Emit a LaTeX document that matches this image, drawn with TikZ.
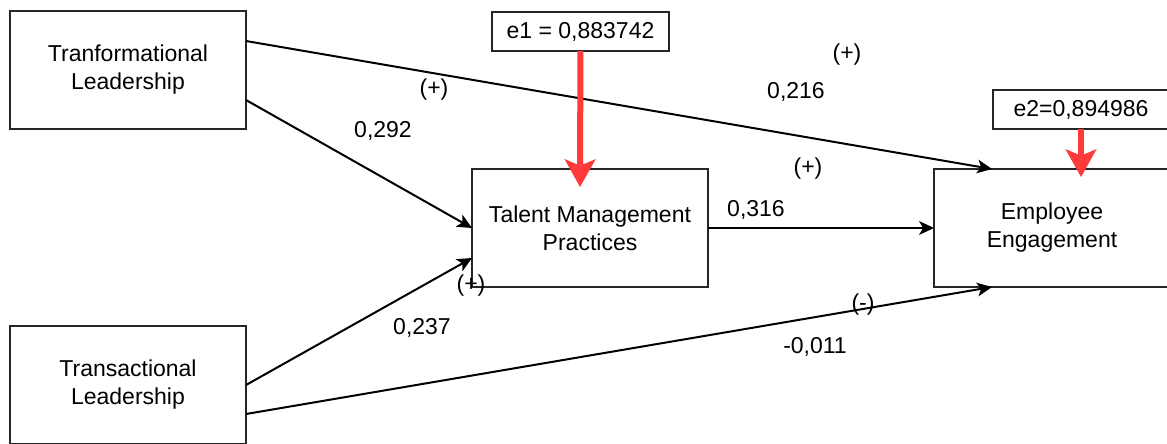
\documentclass[tikz,border=0pt]{standalone}
\usepackage{fontspec}
\setmainfont{Liberation Sans}
\usepackage{xcolor}
\usetikzlibrary{positioning,arrows.meta}

\definecolor{errred}{HTML}{FF3A3A}
\definecolor{boxline}{HTML}{262626}

\begin{document}
\begin{tikzpicture}[
        x=0.75pt, y=-0.75pt,
        node distance=30pt and 169.5pt,
        every node/.style={font=\fontsize{17.25}{21}\selectfont},
        var/.style={draw=boxline, line width=1.5pt, minimum width=177pt,
                    minimum height=88.5pt, align=center, inner sep=0pt,
                    outer sep=0pt},
        err/.style={draw=boxline, line width=1.5pt, minimum height=29.25pt,
                    inner sep=0pt, outer sep=0pt},
        lbl/.style={inner sep=0pt},
        arr/.style={line width=1.5pt,
                    -{Stealth[length=11.25pt,width=10.5pt,inset=3pt,line width=0pt]}},
        errarr/.style={draw=errred, line width=4.5pt,
                    -{Stealth[length=21pt,width=23.5pt,inset=5pt,line width=0pt]}}
    ]
        \useasboundingbox (0,0) rectangle (1167,443);

        \node[var] (tfl) at (128,70) {Tranformational\\Leadership};
        \node[var, below=147.75pt of tfl] (ttl) {Transactional\\Leadership};
        \node[var, below right=30pt and 169.5pt of tfl] (tmp) {Talent Management\\Practices};
        \node[var, right=of tmp] (ee) {Employee\\Engagement};

        \node[err, minimum width=132.75pt] (e1) at (580.5,31.5) {e1 = 0,883742};
        \node[err, minimum width=132pt] (e2) at (1081,109.5) {e2=0,894986};

        % paths
        \draw[arr] ([yshift=21.75pt]tfl.east) -- ([xshift=43.5pt]ee.north west);
        \draw[arr] ([yshift=-22.5pt]tfl.east) -- (tmp.west);
        \draw[arr] (ttl.east) -- ([yshift=-22.5pt]tmp.west);
        \draw[arr] ([yshift=-21.75pt]ttl.east) -- ([xshift=43.5pt]ee.south west);
        \draw[arr] (tmp) -- (ee);

        % error terms
        \draw[errarr] (e1) -- ([xshift=-7.5pt,yshift=-13.5pt]tmp.north);
        \draw[errarr] (e2) -- ([xshift=21.75pt,yshift=-6pt]ee.north);

        % coefficients
        \node[lbl] (s1) at (434,90) {(+)};
        \node[lbl] (c1) at (383,131) {0,292};
        \node[lbl] (s2) at (847,55) {(+)};
        \node[lbl] (c2) at (796,92) {0,216};
        \node[lbl] (s3) at (808,169) {(+)};
        \node[lbl] (c3) at (756,210) {0,316};
        \node[lbl] (s4) at (471,286) {(+)};
        \node[lbl] (c4) at (422,328) {0,237};
        \node[lbl] (s5) at (863,305) {(-)};
        \node[lbl] (c5) at (815,347) {-0,011};
    \end{tikzpicture}
\end{document}
